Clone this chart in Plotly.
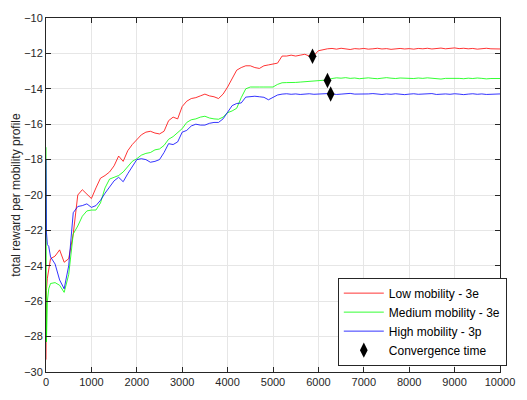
import plotly.graph_objects as go

steps = [0, 10, 30, 60] + list(range(100, 10001, 100))

low_mobility = [-29.3, -25.4, -24.7, -24.2,
    -23.6, -23.45, -23.1, -23.8, -23.6, -22.2, -20.0, -19.7, -19.95, -20.2,
    -19.6, -19.05, -18.9, -18.7, -18.35, -17.8, -18.1, -17.5, -17.15, -16.9,
    -16.6, -16.45, -16.4, -16.5, -16.55, -16.4, -15.8, -15.6, -15.7, -15.0,
    -14.7, -14.55, -14.5, -14.4, -14.3, -14.4, -14.45, -14.55, -14.3, -13.9,
    -13.4, -12.95, -12.8, -12.7, -12.7, -12.8, -12.85, -12.7, -12.65, -12.6,
    -12.55, -12.15, -12.15, -12.1, -12.15, -12.1, -12.05, -12.15, -12.12, -11.85,
    -11.78, -11.74, -11.72, -11.76, -11.71, -11.74, -11.78, -11.73, -11.75, -11.72,
    -11.76, -11.74, -11.71, -11.75, -11.73, -11.77, -11.74, -11.72, -11.75, -11.73,
    -11.76, -11.72, -11.74, -11.71, -11.75, -11.73, -11.70, -11.74, -11.72, -11.69,
    -11.73, -11.71, -11.74, -11.72, -11.76, -11.73, -11.71, -11.74, -11.76, -11.75]

medium_mobility = [-17.3, -28.3, -26.0, -25.3,
    -25.0, -24.95, -25.1, -25.5, -24.5, -22.2, -21.75, -21.2, -20.9, -20.85,
    -20.85, -20.45, -19.6, -19.1, -19.0, -18.9, -18.7, -18.4, -18.1, -17.95,
    -17.75, -17.65, -17.6, -17.45, -17.4, -17.2, -16.85, -16.7, -16.5, -16.25,
    -15.9, -15.75, -15.7, -15.6, -15.55, -15.65, -15.7, -15.72, -15.6, -15.35,
    -15.25, -15.1, -14.5, -14.0, -13.9, -13.88, -13.9, -13.9, -13.92, -13.9,
    -13.75, -13.66, -13.65, -13.66, -13.64, -13.62, -13.6, -13.62, -13.6, -13.58,
    -13.55, -13.5, -13.42, -13.38, -13.40, -13.37, -13.41, -13.39, -13.43, -13.40,
    -13.38, -13.41, -13.43, -13.40, -13.37, -13.40, -13.42, -13.39, -13.41, -13.44,
    -13.42, -13.39, -13.41, -13.38, -13.40, -13.43, -13.45, -13.41, -13.40, -13.38,
    -13.41, -13.43, -13.40, -13.42, -13.39, -13.41, -13.44, -13.42, -13.43, -13.42]

high_mobility = [-18.0, -22.1, -22.8, -22.9,
    -23.5, -23.9, -24.8, -25.3, -24.0, -21.0, -20.65, -20.6, -20.5, -20.7,
    -20.6, -20.3, -19.9, -19.55, -19.2, -19.0, -19.25, -18.8, -18.4, -18.0,
    -17.95, -18.0, -18.15, -18.1, -18.0, -17.6, -17.1, -17.15, -17.0, -16.45,
    -16.35, -16.1, -16.0, -16.05, -16.05, -15.95, -15.9, -15.9, -15.7, -15.3,
    -14.95, -14.83, -14.8, -14.47, -14.43, -14.42, -14.45, -14.48, -14.62, -14.5,
    -14.35, -14.3, -14.28, -14.31, -14.29, -14.32, -14.3, -14.28, -14.31, -14.29,
    -14.3, -14.27, -14.29, -14.32, -14.3, -14.28, -14.26, -14.3, -14.31, -14.28,
    -14.29, -14.27, -14.3, -14.32, -14.29, -14.31, -14.28, -14.3, -14.33, -14.3,
    -14.28, -14.31, -14.29, -14.3, -14.27, -14.32, -14.3, -14.29, -14.31, -14.28,
    -14.3, -14.33, -14.3, -14.28, -14.31, -14.29, -14.32, -14.3, -14.28, -14.29]

conv_x = [5870, 6200, 6270]
conv_y = [-12.16, -13.53, -14.29]

x_ticks = list(range(0, 10001, 1000))
x_labels = [str(v) for v in x_ticks]
y_ticks = list(range(-30, -9, 2))

font = "Liberation Sans, Arial, sans-serif"
fig = go.Figure()
fig.add_trace(go.Scatter(x=steps, y=low_mobility, mode="lines", name="Low mobility - 3e",
                         line=dict(color="#ff0000", width=0.8)))
fig.add_trace(go.Scatter(x=steps, y=medium_mobility, mode="lines", name="Medium mobility - 3e",
                         line=dict(color="#00ff00", width=0.8)))
fig.add_trace(go.Scatter(x=steps, y=high_mobility, mode="lines", name="High mobility - 3p",
                         line=dict(color="#0000ff", width=0.8)))
fig.add_trace(go.Scatter(x=conv_x, y=conv_y, mode="markers", name="Convergence time",
                         marker=dict(symbol="diamond-tall", size=11, color="black")))

axis_common = dict(showline=True, linecolor="#262626", linewidth=1, mirror="ticks",
                   ticks="inside", ticklen=5, tickcolor="#262626",
                   showgrid=True, gridcolor="#e6e6e6", gridwidth=1, zeroline=False,
                   tickfont=dict(size=11, color="#262626", family=font))

fig.update_layout(
    width=527, height=400,
    margin=dict(l=46, r=13, t=12, b=18),
    paper_bgcolor="white", plot_bgcolor="white",
    font=dict(family=font, size=11, color="#262626"),
    xaxis=dict(range=[0, 10000], tickvals=x_ticks, ticktext=x_labels, **axis_common),
    yaxis=dict(range=[-30, -10], tickvals=y_ticks,
               title=dict(text="total reward per mobility profile", font=dict(size=12, color="#262626"), standoff=0),
               **axis_common),
    legend=dict(x=1.015, xanchor="right", y=0.018, yanchor="bottom",
                bgcolor="white", bordercolor="#262626", borderwidth=1,
                font=dict(size=12, color="#000000", family=font),
                tracegroupgap=0, itemwidth=40),
    showlegend=True,
)

fig.write_html("out.html")
